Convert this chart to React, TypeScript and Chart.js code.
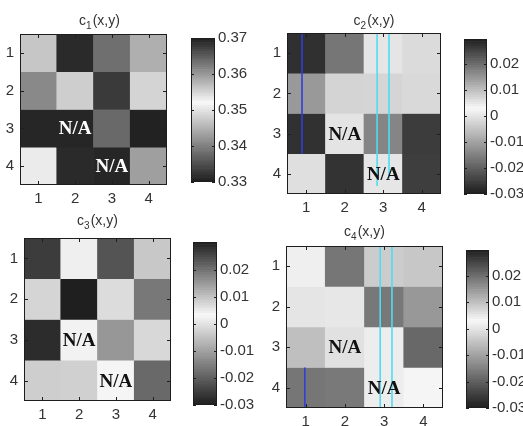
import React, { useEffect, useRef } from "react";
import { Chart, registerables } from "chart.js";

Chart.register(...registerables);

// ---------- data ----------
const ROW_LABELS = ["1", "2", "3", "4"];
const COL_LABELS = ["1", "2", "3", "4"];

const C1_VALUES = [
  [0.347, 0.369, 0.3633, 0.358],
  [0.3612, 0.3478, 0.3677, 0.355],
  [0.3308, 0.3308, 0.3376, 0.3304],
  [0.3531, 0.3312, 0.3308, 0.343],
];
const C2_VALUES = [
  [-0.0273, -0.0167, 0.0052, -0.0015],
  [-0.0114, -0.0026, 0.0072, 0.0067],
  [0.0274, -0.0002, 0.017, -0.0255],
  [-0.0009, -0.0269, 0.005, 0.0258],
];
const C3_VALUES = [
  [0.0266, 0.0018, -0.0218, 0.0091],
  [-0.0021, -0.0298, 0.0067, 0.0191],
  [0.0285, 0.0039, -0.0116, 0.0072],
  [-0.0033, 0.0082, 0.0035, -0.0186],
];
const C4_VALUES = [
  [0.0015, -0.0167, 0.0083, -0.0045],
  [0.0052, 0.0003, 0.0187, 0.0148],
  [-0.0057, 0.0057, 0.0042, 0.0207],
  [-0.0167, -0.0162, 0.0012, 0.0024],
];

// [row, column], 1-based
const NA_CELLS = [
  [3, 2],
  [4, 3],
];
const NA_LABEL = "N/A";

const C1_RANGE = [0.33, 0.37];
const C2_RANGE = [-0.03, 0.0297];
const C3_RANGE = [-0.03, 0.0303];
const C4_RANGE = [-0.03, 0.0298];

const C1_TICKS = [0.33, 0.34, 0.35, 0.36, 0.37];
const CX_TICKS = [-0.03, -0.02, -0.01, 0, 0.01, 0.02];

// coloured scan streaks: column position, row span
const C2_STREAK_X = [0.89, 2.84, 3.15];
const C2_STREAK_FROM = [0.5, 0.5, 0.5];
const C2_STREAK_TO = [3.5, 4.3, 4.1];
const C4_STREAK_X = [0.98, 2.9, 3.2];
const C4_STREAK_FROM = [3.5, 0.5, 0.5];
const C4_STREAK_TO = [4.5, 4.5, 4.5];

// ---------- styling ----------
const TICK_FONT = { family: "'Liberation Sans', Arial, sans-serif", size: 15 };
const TEXT_COLOR = "#333333";
const FRAME_COLOR = "#1e1e1e";
const BLUE = "#2f3fd6";
const CYAN = "#4fdcf0";

function grayFor(v: number, range: number[]) {
  let t = (v - range[0]) / (range[1] - range[0]);
  t = Math.max(0, Math.min(1, t));
  const lo = 30, hi = 248, m = 0.55;
  const g = t <= m ? lo + ((hi - lo) * t) / m : hi - ((hi - lo) * (t - m)) / (1 - m);
  const c = Math.round(g);
  return `rgb(${c},${c},${c})`;
}

function fmtTick(v: number) {
  if (Math.abs(v) < 1e-12) return "0";
  return v.toFixed(2);
}

const PANELS = [
  {
    key: "c1", values: C1_VALUES, range: C1_RANGE, ticks: C1_TICKS, sub: "1", naColor: "#ffffff",
    streakX: [] as number[], streakFrom: [] as number[], streakTo: [] as number[], streakColors: [] as string[],
    heat: { l: 20, t: 34, r: 167, b: 185 }, cbar: { l: 191, t: 35, r: 215, b: 185 }, titleDy: 14, titleDx: 6,
  },
  {
    key: "c2", values: C2_VALUES, range: C2_RANGE, ticks: CX_TICKS, sub: "2", naColor: "#111111",
    streakX: C2_STREAK_X, streakFrom: C2_STREAK_FROM, streakTo: C2_STREAK_TO, streakColors: [BLUE, CYAN, CYAN],
    heat: { l: 287, t: 33, r: 441, b: 194 }, cbar: { l: 464, t: 36, r: 487, b: 197 }, titleDy: 13, titleDx: 10,
  },
  {
    key: "c3", values: C3_VALUES, range: C3_RANGE, ticks: CX_TICKS, sub: "3", naColor: "#111111",
    streakX: [] as number[], streakFrom: [] as number[], streakTo: [] as number[], streakColors: [] as string[],
    heat: { l: 24, t: 238, r: 171, b: 401 }, cbar: { l: 193, t: 239, r: 217, b: 408 }, titleDy: 18, titleDx: 0,
  },
  {
    key: "c4", values: C4_VALUES, range: C4_RANGE, ticks: CX_TICKS, sub: "4", naColor: "#111111",
    streakX: C4_STREAK_X, streakFrom: C4_STREAK_FROM, streakTo: C4_STREAK_TO, streakColors: [BLUE, CYAN, CYAN],
    heat: { l: 286, t: 246, r: 443, b: 408 }, cbar: { l: 466, t: 247, r: 489, b: 411 }, titleDy: 15, titleDx: 0,
  },
];

const H_LEFT = 26;
const H_TOP = 32;
const H_RIGHT = 6;
const H_BOTTOM = 28;

function Heatmap({ panel }: { panel: any }) {
  const ref = useRef<HTMLCanvasElement>(null);
  const { heat } = panel;
  const W = H_LEFT + (heat.r - heat.l) + H_RIGHT;
  const H = H_TOP + (heat.b - heat.t) + H_BOTTOM;

  useEffect(() => {
    if (!ref.current) return;
    const datasets = panel.values.map((row: number[], ri: number) => ({
      label: ROW_LABELS[ri],
      data: row.map(() => [ri + 0.5, ri + 1.5]),
      backgroundColor: row.map((v) => grayFor(v, panel.range)),
      borderWidth: 0,
      grouped: false,
      barPercentage: 1,
      categoryPercentage: 1,
    }));

    const plugin = {
      id: "heatDecor" + panel.key,
      afterDatasetsDraw(chart: any) {
        const ctx = chart.ctx;
        const a = chart.chartArea;
        const xs = chart.scales.x;
        const ys = chart.scales.y;
        ctx.save();
        // streaks
        panel.streakX.forEach((sx: number, i: number) => {
          const px = xs.getPixelForValue(sx - 1);
          ctx.strokeStyle = panel.streakColors[i];
          ctx.lineWidth = 1.6;
          ctx.beginPath();
          ctx.moveTo(px, ys.getPixelForValue(panel.streakFrom[i]));
          ctx.lineTo(px, ys.getPixelForValue(panel.streakTo[i]));
          ctx.stroke();
        });
        // N/A labels
        ctx.font = "bold 19px 'Liberation Serif', 'Times New Roman', serif";
        ctx.fillStyle = panel.naColor;
        ctx.textAlign = "center";
        ctx.textBaseline = "middle";
        NA_CELLS.forEach(([r, c]) => {
          ctx.fillText(NA_LABEL, xs.getPixelForValue(c - 1), ys.getPixelForValue(r) + 1);
        });
        // frame
        ctx.strokeStyle = FRAME_COLOR;
        ctx.lineWidth = 1;
        ctx.strokeRect(a.left + 0.5, a.top + 0.5, a.right - a.left - 1, a.bottom - a.top - 1);
        // inward ticks
        const tl = 4;
        ctx.beginPath();
        COL_LABELS.forEach((_, i) => {
          const px = Math.round(xs.getPixelForValue(i)) + 0.5;
          ctx.moveTo(px, a.bottom);
          ctx.lineTo(px, a.bottom - tl);
          ctx.moveTo(px, a.top);
          ctx.lineTo(px, a.top + tl);
        });
        ROW_LABELS.forEach((_, i) => {
          const py = Math.round(ys.getPixelForValue(i + 1)) + 0.5;
          ctx.moveTo(a.left, py);
          ctx.lineTo(a.left + tl, py);
          ctx.moveTo(a.right, py);
          ctx.lineTo(a.right - tl, py);
        });
        ctx.stroke();
        // title c_k(x,y)
        const mainFont = "14px 'Liberation Sans', Arial, sans-serif";
        const subFont = "10px 'Liberation Sans', Arial, sans-serif";
        ctx.textAlign = "left";
        ctx.textBaseline = "alphabetic";
        ctx.fillStyle = TEXT_COLOR;
        ctx.font = mainFont;
        const wc = ctx.measureText("c").width;
        const wm = ctx.measureText("(x,y)").width;
        ctx.font = subFont;
        const ws = ctx.measureText(panel.sub).width + 1;
        const total = wc + ws + wm;
        const cx = (a.left + a.right) / 2 + panel.titleDx;
        const cy = a.top - panel.titleDy;
        let x0 = cx - total / 2;
        ctx.font = mainFont;
        ctx.fillText("c", x0, cy + 5);
        ctx.font = subFont;
        ctx.fillText(panel.sub, x0 + wc, cy + 9);
        ctx.font = mainFont;
        ctx.fillText("(x,y)", x0 + wc + ws, cy + 5);
        ctx.restore();
      },
    };

    const chart = new Chart(ref.current, {
      type: "bar",
      data: { labels: COL_LABELS, datasets },
      options: {
        animation: false,
        responsive: false,
        maintainAspectRatio: false,
        devicePixelRatio: 1,
        layout: { padding: { top: H_TOP, right: H_RIGHT, left: 0, bottom: 0 } },
        plugins: { legend: { display: false }, tooltip: { enabled: false } },
        scales: {
          x: {
            type: "category",
            offset: true,
            grid: { display: false, drawTicks: false },
            border: { display: false },
            ticks: { font: TICK_FONT, color: TEXT_COLOR, padding: 5, maxRotation: 0, autoSkip: false },
            afterFit: (s: any) => { s.height = H_BOTTOM; },
          },
          y: {
            type: "linear",
            min: 0.5,
            max: 4.5,
            reverse: true,
            grid: { display: false, drawTicks: false },
            border: { display: false },
            ticks: {
              font: TICK_FONT, color: TEXT_COLOR, padding: 6, autoSkip: false,
              callback: (v: any) => ROW_LABELS[Math.round(v) - 1],
            },
            afterBuildTicks: (s: any) => { s.ticks = ROW_LABELS.map((_, i) => ({ value: i + 1 })); },
            afterFit: (s: any) => { s.width = H_LEFT; },
          },
        },
      } as any,
      plugins: [plugin],
    });
    return () => chart.destroy();
  }, []);

  return (
    <canvas
      ref={ref}
      width={W}
      height={H}
      style={{ position: "absolute", left: heat.l - H_LEFT, top: heat.t - H_TOP, width: W, height: H }}
    />
  );
}

const CB_LABEL_W = 50;
const CB_PAD = 9;
const CB_SLICES = 64;

function ColorBar({ panel }: { panel: any }) {
  const ref = useRef<HTMLCanvasElement>(null);
  const { cbar } = panel;
  const W = (cbar.r - cbar.l) + CB_LABEL_W;
  const H = (cbar.b - cbar.t) + CB_PAD * 2;

  useEffect(() => {
    if (!ref.current) return;
    const [mn, mx] = panel.range;
    const step = (mx - mn) / CB_SLICES;
    const datasets = [];
    for (let i = 0; i < CB_SLICES; i++) {
      const lo = mn + i * step;
      const hi = lo + step;
      datasets.push({
        data: [[lo, hi]],
        backgroundColor: grayFor((lo + hi) / 2, panel.range),
        borderWidth: 0,
        grouped: false,
        barPercentage: 1,
        categoryPercentage: 1,
      });
    }
    const plugin = {
      id: "cbFrame" + panel.key,
      afterDatasetsDraw(chart: any) {
        const ctx = chart.ctx;
        const a = chart.chartArea;
        const ys = chart.scales.y;
        ctx.save();
        ctx.strokeStyle = FRAME_COLOR;
        ctx.lineWidth = 1;
        ctx.strokeRect(a.left + 0.5, a.top + 0.5, a.right - a.left - 1, a.bottom - a.top - 1);
        ctx.beginPath();
        panel.ticks.forEach((v: number) => {
          const py = Math.round(ys.getPixelForValue(v)) + 0.5;
          ctx.moveTo(a.right, py);
          ctx.lineTo(a.right - 3, py);
          ctx.moveTo(a.left, py);
          ctx.lineTo(a.left + 3, py);
        });
        ctx.stroke();
        ctx.restore();
      },
    };
    const chart = new Chart(ref.current, {
      type: "bar",
      data: { labels: [""], datasets },
      options: {
        animation: false,
        responsive: false,
        maintainAspectRatio: false,
        devicePixelRatio: 1,
        layout: { padding: { top: CB_PAD, bottom: CB_PAD, left: 0, right: 0 } },
        plugins: { legend: { display: false }, tooltip: { enabled: false } },
        scales: {
          x: { display: false, offset: true },
          y: {
            position: "right",
            min: mn,
            max: mx,
            grid: { display: false, drawTicks: false },
            border: { display: false },
            ticks: { font: TICK_FONT, color: TEXT_COLOR, padding: 3, autoSkip: false, callback: (v: any) => fmtTick(Number(v)) },
            afterBuildTicks: (s: any) => { s.ticks = panel.ticks.map((v: number) => ({ value: v })); },
            afterFit: (s: any) => { s.width = CB_LABEL_W; },
          },
        },
      } as any,
      plugins: [plugin],
    });
    return () => chart.destroy();
  }, []);

  return (
    <canvas
      ref={ref}
      width={W}
      height={H}
      style={{ position: "absolute", left: cbar.l, top: cbar.t - CB_PAD, width: W, height: H }}
    />
  );
}

export default function App() {
  return (
    <div style={{ position: "absolute", left: 0, top: 0, width: 523, height: 426, background: "#ffffff", overflow: "hidden" }}>
      {PANELS.map((p) => (
        <React.Fragment key={p.key}>
          <Heatmap panel={p} />
          <ColorBar panel={p} />
        </React.Fragment>
      ))}
    </div>
  );
}
